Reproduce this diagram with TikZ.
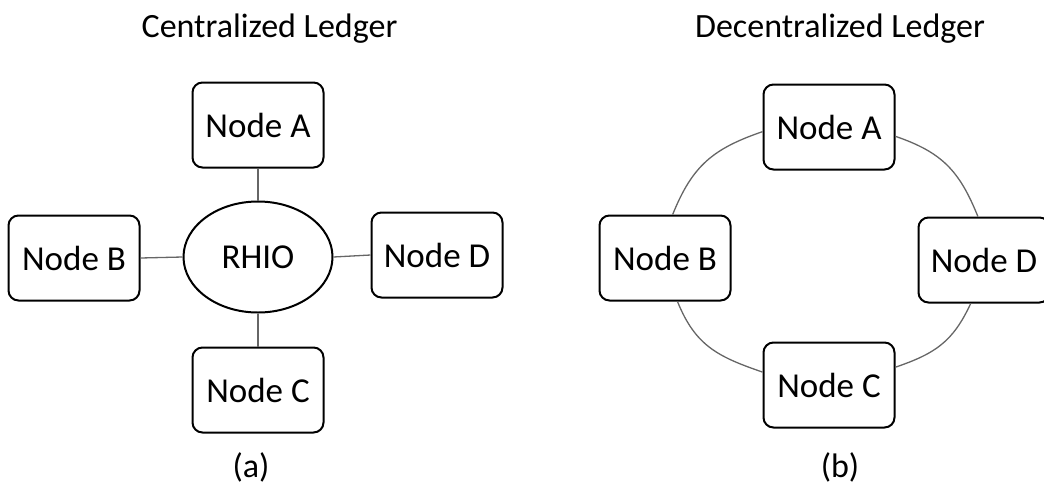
\documentclass[tikz,border=0pt]{standalone}
\usepackage{fontspec}
\setmainfont{Carlito}
\usetikzlibrary{shapes.geometric}
\begin{document}
\begin{tikzpicture}[x=1pt,y=1pt,
  box/.style={draw=black, line width=2pt, rounded corners=10pt, minimum width=131pt, minimum height=85pt, inner sep=0pt, fill=white, font=\fontsize{35}{42}\selectfont},
  hub/.style={draw=black, line width=2pt, ellipse, minimum width=149pt, minimum height=111pt, inner sep=0pt, fill=white, font=\fontsize{35}{42}\selectfont},
  link/.style={draw=black!60, line width=1.3pt},
  title/.style={font=\fontsize{34}{40}\selectfont, inner sep=0pt, anchor=base}]
\useasboundingbox (0,0) rectangle (1044,-485);
% titles
\node[title] (t1) at (269.5,-37) {Centralized Ledger};
\node[title] (t2) at (840,-37) {Decentralized Ledger};
\node[title] (la) at (251,-477) {(a)};
\node[title] (lb) at (840,-477) {(b)};
% centralized
\node[hub] (R) at (258,-257) {RHIO};
\node[box] (A) at (258,-125) {Node A};
\node[box] (B) at (74,-258) {Node B};
\node[box] (D) at (437,-255) {Node D};
\node[box] (C) at (258,-390) {Node C};
\draw[link] (A) -- (R);
\draw[link] (B.east) -- (R.west);
\draw[link] (R.east) -- (D.west);
\draw[link] (R) -- (C);
% decentralized
\node[box] (A2) at (829,-127) {Node A};
\node[box] (B2) at (665,-258) {Node B};
\node[box] (D2) at (984,-260) {Node D};
\node[box] (C2) at (829,-385) {Node C};
\draw[link] (A2.184) to[out=199,in=68,looseness=1.1] (B2.80);
\draw[link] (B2.286) to[out=292,in=161,looseness=1.1] (C2.169);
\draw[link] (C2.15) to[out=19,in=245,looseness=1.1] (D2.253);
\draw[link] (D2.98) to[out=112,in=341,looseness=1.1] (A2.352);
\end{tikzpicture}
\end{document}
